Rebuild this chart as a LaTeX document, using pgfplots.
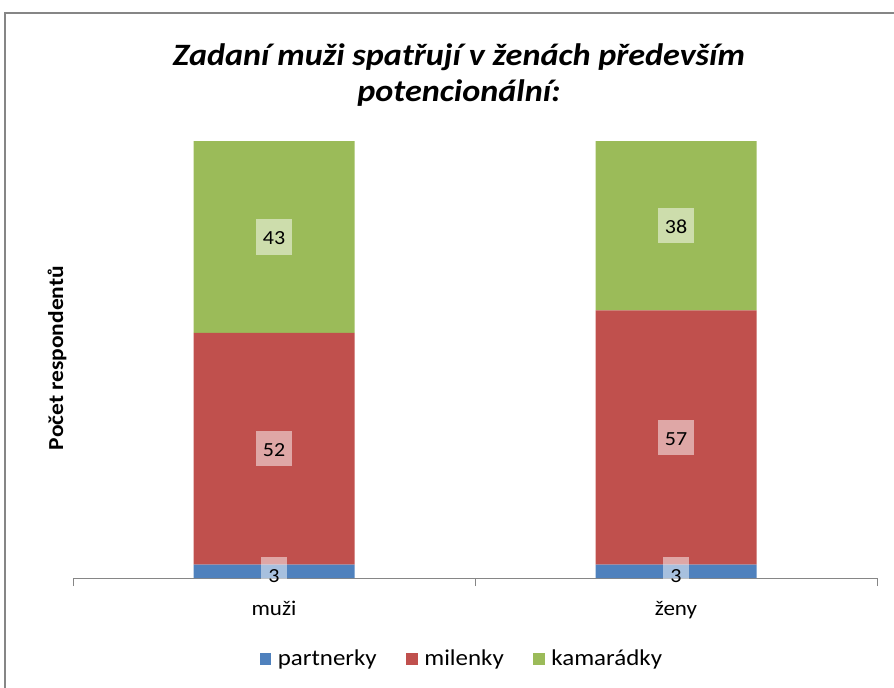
\documentclass[border=0pt]{standalone}
\usepackage{pgfplots}
\pgfplotsset{compat=1.18}
\usepackage{fontspec}
\setmainfont[FakeStretch=1.1]{Carlito}
\definecolor{cBlue}{HTML}{4F81BD}
\definecolor{cRed}{HTML}{C0504D}
\definecolor{cGreen}{HTML}{9BBB59}
\definecolor{cAxis}{HTML}{868686}
\begin{document}
\begin{tikzpicture}[x=0.75pt,y=-0.75pt]
\useasboundingbox (0,0) rectangle (894,688);
\begin{scope}
\clip (0,0) rectangle (894,688);
\draw[color=cAxis, line width=1.5pt] (5,13) rectangle (1000,800);
\end{scope}
\node[font=\fontsize{23.3}{27}\selectfont\bfseries\itshape, align=center] at (459,75) {Zadaní muži spatřují v ženách především\\potencionální:};
\node[font=\fontsize{16}{18}\selectfont\bfseries, rotate=90] at (57,358) {Počet respondentů};
\coordinate (O) at (73,578);
\begin{axis}[
  at={(O)}, anchor=south west,
  width=603pt, height=327.75pt, scale only axis,
  ybar stacked, bar width=120.75pt,
  xmin=-0.5, xmax=1.5, ymin=0, ymax=98,
  axis x line=bottom, axis y line=none,
  axis line style={-, cAxis, line width=0.75pt},
  xtick={0,1}, xticklabels={muži,ženy},
  major tick length=0pt,
  xticklabel style={font=\fontsize{15.7}{18}\selectfont, yshift=-14pt},
  extra x ticks={-0.5,0.5,1.5}, extra x tick labels={},
  extra x tick style={major tick length=6pt, tick align=outside, tick style={cAxis, line width=0.75pt}},
  legend style={at={(0.484,-0.185)}, anchor=center, draw=none, fill=none,
    legend columns=3, font=\fontsize{17}{20}\selectfont,
    /tikz/every odd column/.append style={column sep=3pt},
    /tikz/every even column/.append style={column sep=20pt}},
  legend image code/.code={\fill[#1] (0pt,-4.3pt) rectangle (8.7pt,4.3pt);},
]
\addplot[fill=cBlue, draw=none] coordinates {(0,3) (1,3)};
\addplot[fill=cRed, draw=none] coordinates {(0,52) (1,57)};
\addplot[fill=cGreen, draw=none] coordinates {(0,43) (1,38)};
\legend{partnerky, milenky, kamarádky}
\end{axis}
\begin{axis}[
  at={(O)}, anchor=south west,
  width=603pt, height=327.75pt, scale only axis,
  xmin=-0.5, xmax=1.5, ymin=0, ymax=98,
  hide axis, clip=false,
]
\addplot[only marks, mark=none, nodes near coords, point meta=explicit symbolic,
  every node near coord/.style={anchor=center, fill=white, fill opacity=0.5, text opacity=1,
    text=black, font=\fontsize{15}{18}\selectfont, inner xsep=5.5pt, inner ysep=6pt,
    text height=13pt, text depth=1.5pt}]
  coordinates {(0,0.8)[3] (0,29)[52] (0,76.5)[43] (1,0.8)[3] (1,31.5)[57] (1,79)[38]};
\end{axis}
\end{tikzpicture}
\end{document}
